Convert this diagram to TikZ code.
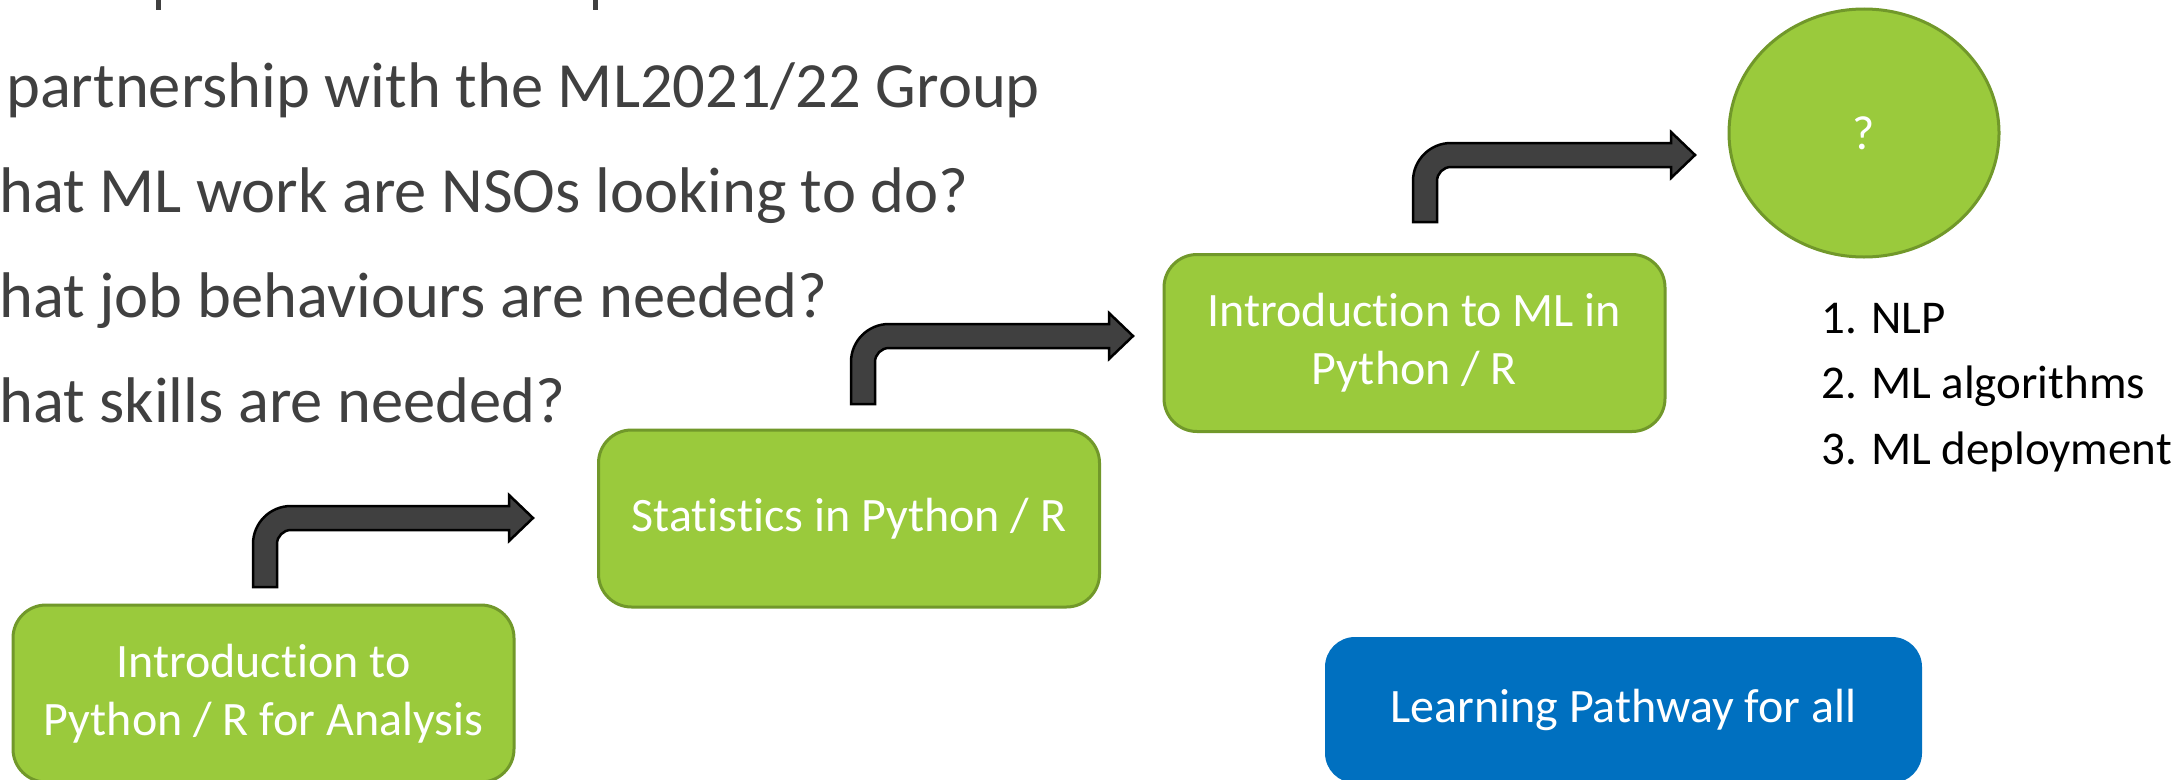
\documentclass[tikz,border=0pt]{standalone}
\usepackage{fontspec}
\setmainfont[Ligatures={NoCommon,NoRequired,NoContextual}]{Carlito}
\usetikzlibrary{shapes.geometric}
\definecolor{lgreen}{HTML}{9ACA3C}
\definecolor{dgreen}{HTML}{71982A}
\definecolor{pblue}{HTML}{0070C0}
\definecolor{tgray}{HTML}{404040}
\tikzset{
  greenbox/.style={draw=dgreen, line width=3pt, fill=lgreen, rounded corners=33pt,
    text=white, align=center, inner sep=0pt, minimum width=501pt, minimum height=177pt,
    font=\fontsize{48}{58}\selectfont},
  bluebox/.style={fill=pblue, rounded corners=30pt, text=white, align=center, inner sep=0pt,
    minimum width=597pt, minimum height=146pt, font=\fontsize{48}{58}\selectfont},
  bullettext/.style={anchor=base west, inner sep=0pt, text=tgray, font=\fontsize{64.5}{75}\selectfont},
  listtext/.style={anchor=base west, inner sep=0pt, text=black, font=\fontsize{47}{56}\selectfont},
  arrowshape/.style={fill=tgray, draw=black, line width=2.5pt, line join=miter},
}
% #1 stem left x, #2 stem bottom y, #3 bar top y, #4 tip x
\newcommand\bentarrow[4]{%
  \draw[arrowshape] (#1,#2) -- (#1,#3+38) .. controls (#1,#3+17) and (#1+17,#3) .. (#1+38,#3)
    -- (#4-24,#3) -- (#4-24,#3-11) -- (#4,#3+12) -- (#4-24,#3+35) -- (#4-24,#3+24)
    -- (#1+38,#3+24) .. controls (#1+30.3,#3+24) and (#1+24,#3+30.3) .. (#1+24,#3+38)
    -- (#1+24,#2) -- cycle;}
\begin{document}
\begin{tikzpicture}[x=1pt,y=-1pt]
\useasboundingbox (0,0) rectangle (2184,779);
\clip (0,0) rectangle (2184,779);
\fill[white] (0,0) rectangle (2184,779);

% cut-off first line (descenders only)
\fill[tgray] (156,0) rectangle (160.5,10);
\fill[tgray] (593,0) rectangle (597.5,10);

\node[bullettext] (l2) at (6,107) {partnership with the ML2021/22 Group};
\node[bullettext] (l3) at (-1,212) {hat ML work are NSOs looking to do?};
\node[bullettext] (l4) at (-1,317) {hat job behaviours are needed?};
\node[bullettext] (l5) at (-1,422) {hat skills are needed?};

\node[greenbox] (b1) at (263.5,693.5) {Introduction to\\Python / R for Analysis};
\node[greenbox] (b2) at (849,518.5) {Statistics in Python / R};
\node[greenbox] (b3) at (1414.5,343) {Introduction to ML in\\Python / R};

\node[ellipse, draw=dgreen, line width=3pt, fill=lgreen, minimum width=270pt, minimum height=248pt,
  inner sep=0pt, text=white, font=\fontsize{48}{58}\selectfont] (goal) at (1864,133) {?};

\node[listtext] (i1) at (1821,333) {1. NLP};
\node[listtext] (i2) at (1821,398) {2. ML algorithms};
\node[listtext] (i3) at (1821,464) {3. ML deployment};

\node[bluebox] (lp) at (1623.5,710) {Learning Pathway for all};

\bentarrow{253}{587}{506}{533}
\bentarrow{851}{404}{324}{1133}
\bentarrow{1413}{222}{143}{1695}
\end{tikzpicture}
\end{document}
